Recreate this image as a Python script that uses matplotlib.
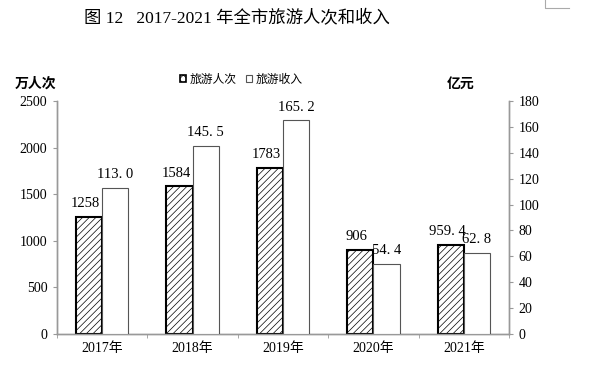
import numpy as np
import matplotlib
matplotlib.use('Agg')
import matplotlib.pyplot as plt
from matplotlib.patches import Patch
from matplotlib.lines import Line2D

years = ['2017年', '2018年', '2019年', '2020年', '2021年']
visits = [1258, 1584, 1783, 906, 959.4]          # 万人次
income = [113.0, 145.5, 165.2, 54.4, 62.8]        # 亿元
visit_labels = ['1258', '1584', '1783', '906', '959. 4']
income_labels = ['113. 0', '145. 5', '165. 2', '54. 4', '62. 8']

plt.rcParams['font.family'] = ['Liberation Serif', 'Noto Sans CJK SC']
plt.rcParams['hatch.linewidth'] = 0.5
plt.rcParams['hatch.color'] = '#444444'

fig = plt.figure(figsize=(5.92, 3.74), dpi=100)
ax = fig.add_axes([57 / 592, 1 - 334 / 374, 452 / 592, 233 / 374])
ax2 = ax.twinx()

x = np.arange(len(years))
w = 0.29
ax.bar(x - w / 2, visits, w, color='white', edgecolor='black', linewidth=1.5,
       hatch='/////', zorder=3)
ax2.bar(x + w / 2, income, w, color='white', edgecolor='#555555', linewidth=0.8,
        zorder=3)

for xi, v, s in zip(x, visits, visit_labels):
    ax.text(xi - w / 2 - 0.04, v + 70, s, ha='center', va='bottom', fontsize=10.5)
for xi, v, s in zip(x, income, income_labels):
    ax2.text(xi + w / 2, v + 5, s, ha='center', va='bottom', fontsize=10.5)

ax.set_xlim(-0.5, 4.5)
ax.set_ylim(0, 2500)
ax2.set_ylim(0, 180)
ax.set_yticks(range(0, 2501, 500))
ax2.set_yticks(range(0, 181, 20))
ax.set_xticks(x)
ax.set_xticklabels(years, fontsize=10)
ax.tick_params(axis='x', length=0, pad=6)
ax.set_xticks(np.arange(-0.5, 5, 1), minor=True)
ax.tick_params(axis='x', which='minor', length=3, color='#999999', direction='out')
ax.tick_params(axis='y', length=3, color='#999999', labelsize=10, pad=4)
ax2.tick_params(axis='y', length=3, color='#999999', labelsize=10, pad=4)

for a in (ax, ax2):
    a.spines['top'].set_visible(False)
    for s in ('left', 'right', 'bottom'):
        a.spines[s].set_color('#999999')
        a.spines[s].set_linewidth(1.0)

fig.text(237 / 592, 1 - 19 / 374, '图 12   2017-2021 年全市旅游人次和收入',
         ha='center', va='center', fontsize=12.5)
fig.text(15 / 592, 1 - 84 / 374, '万人次', ha='left', va='center', fontsize=10,
         fontweight='bold')
fig.text(447 / 592, 1 - 84 / 374, '亿元', ha='left', va='center', fontsize=10,
         fontweight='bold')

handles = [Patch(facecolor='white', edgecolor='black', hatch='xxxx', linewidth=1.2),
           Patch(facecolor='white', edgecolor='#555555', linewidth=0.8)]
fig.legend(handles, ['旅游人次', '旅游收入'], loc='center', ncol=2,
           bbox_to_anchor=(241 / 592, 1 - 80 / 374), frameon=False, fontsize=8.5,
           handlelength=0.55, handleheight=0.55, handletextpad=0.25, columnspacing=0.8)

# page corner mark
fig.add_artist(Line2D([545 / 592, 545 / 592, 569 / 592], [1, 1 - 8 / 374, 1 - 8 / 374],
                      color='#aaaaaa', linewidth=0.8))

fig.savefig('out.png', dpi=100)
